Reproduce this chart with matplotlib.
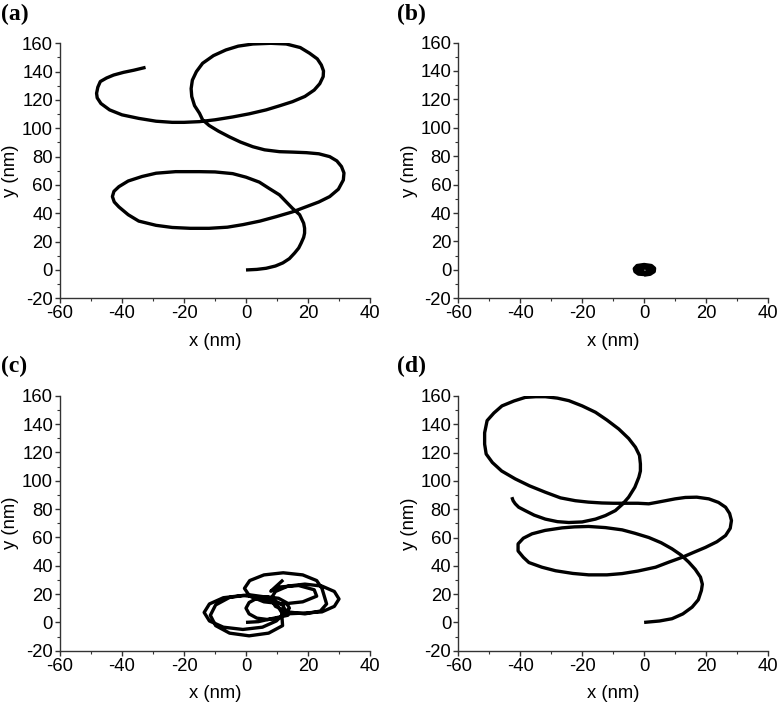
import matplotlib.pyplot as plt
from matplotlib.ticker import MultipleLocator

plt.rcParams['axes.unicode_minus'] = False

# trajectories, (x, y) in nm
a_pts = [(0, 0), (3.5, 0.4), (6.5, 1.2), (9.5, 2.8), (11.9, 5), (14, 8), (15.7, 12), (17, 15.5), (17.8, 19),
         (18.6, 23), (18.9, 26), (18.9, 29.5), (18.6, 33), (17.3, 39), (15, 43.5), (13, 48), (10.8, 53),
         (7.5, 57.5), (4.3, 62), (0, 65.5), (-4.3, 68), (-10, 69.2), (-15, 69.4), (-22.7, 69.4), (-29, 68.3),
         (-33.5, 66), (-38, 62.8), (-41, 58.8), (-42.6, 55.5), (-43.1, 51.8), (-42.5, 48), (-41, 44.5),
         (-38, 39), (-34.6, 34.5), (-29, 31.5), (-23.8, 30), (-18, 29.4), (-11.9, 29.4), (-6, 30.2), (-1, 32),
         (4.5, 34.5), (9.7, 37.6), (15, 41), (19.5, 44.7), (23.5, 48), (27, 51.8), (29.8, 57), (31.4, 63.5),
         (31.6, 68.5), (30.8, 73), (29.3, 77), (27, 80), (23.5, 82), (19.5, 82.8), (15, 83.2), (10.8, 83.5),
         (6, 84.8), (2.2, 87), (-1.8, 90.3), (-5.4, 94), (-8.9, 98), (-11.9, 102), (-14, 106), (-15, 110.6),
         (-16.6, 116), (-17.5, 122.4), (-17.7, 128), (-17.3, 134), (-16, 140), (-14, 145.9), (-10.5, 151.3),
         (-6.5, 155.3), (-2.5, 158), (2.2, 159.5), (8, 160), (13, 159.5), (17.5, 157), (20.5, 153), (23, 149),
         (24.3, 144.7), (25, 140.5), (24.9, 136.5), (23.8, 131.5), (22, 127), (19, 122.5), (15, 118.8), (11, 116),
         (6.5, 113), (1, 110.2), (-4.3, 108), (-10, 106), (-15, 104.7), (-20, 104.2), (-23.8, 104.2), (-29, 105),
         (-34.6, 107), (-40, 109.5), (-44, 113), (-46.8, 117.5), (-48, 121.5), (-48.2, 124.7), (-47.8, 129),
         (-47, 133), (-45, 135.5), (-42.7, 137.6), (-39.5, 139.5), (-36.2, 141), (-32.4, 143)]

b_pts = [(0, -3.3), (1.9, -2.7), (3.1, -1), (3.2, 1), (2.3, 2.7), (0, 3.4), (-2.2, 2.7), (-3, 0.8), (-2.8, -1),
         (-1.8, -2.6), (0, -2.9), (1.6, -2.2), (2.4, -0.6), (2.3, 0.9), (1.4, 2.2), (0, 2.6), (-1.4, 2.1),
         (-2.3, 0.6), (-2.2, -0.9), (-1.2, -2), (0, -2.2), (1, -1.6), (1.5, -0.3), (1.2, 1), (0.4, 1.7),
         (-0.6, 1.7), (-1.3, 0.8), (-1.2, -0.4), (-0.5, -1.2), (0, -1.3)]

c_pts = [(0, 0), (4, 0.5), (8, 2.5),
         (13.5, 5), (11.8, 12.3), (7.3, 17.6), (1, 19.5), (-5.3, 17.6), (-9.8, 12.3), (-11.5, 5), (-9.8, -2.3),
         (-5.3, -7.6), (1, -9.5), (7.3, -7.6), (11.8, -2.3),
         (11.5, 7), (9.8, 13), (5.3, 17.4), (-1, 19), (-7.3, 17.4), (-11.8, 13), (-13.5, 7), (-11.8, 1),
         (-7.3, -3.4), (-1, -5), (5.3, -3.4), (9.8, 1),
         (14, 10), (13, 14), (10.5, 17), (7, 18), (3.5, 17), (1, 14), (0, 10), (1, 6), (3.5, 3), (7, 2),
         (10.5, 3), (13, 6), (18, 6.5),
         (24.5, 7.4), (28.5, 11.3), (30, 16.5), (28.5, 21.8), (24.5, 25.6), (19, 27), (13.5, 25.6), (9.5, 21.8),
         (8, 16.5), (9.5, 11.3), (13.5, 7.4), (19, 6), (24, 8), (26, 13),
         (24.5, 24), (22.8, 29.5), (18.3, 33.5), (12, 35), (5.8, 33.5), (1.2, 29.5), (-0.5, 24), (1.2, 18.5),
         (5.8, 14.5), (12, 13), (18.3, 14.5), (22.8, 18.5), (22, 23), (17, 26), (11, 25), (8, 22), (10, 26),
         (12, 30)]

d_pts = [(0, 0), (5, 1), (9, 2.6), (12.5, 6), (15.5, 10.8), (17.5, 16), (18.5, 22.6), (18.8, 27), (18.2, 32),
         (16.5, 37.5), (14.4, 42.6), (12, 47.5), (9, 52), (5.5, 56.3), (1.5, 60), (-3, 63), (-7.1, 65.4),
         (-12.5, 67), (-17.9, 67.8), (-22.5, 67.5), (-26.5, 66.8), (-32, 65), (-36.2, 62.6), (-39, 59.5),
         (-40.7, 55.5), (-40.7, 50.5), (-39, 46), (-37.2, 42.3), (-33, 39), (-28.6, 36.5), (-23, 34.6),
         (-17.9, 33.6), (-12, 33.6), (-7.1, 34.5), (-2, 36.3), (3.7, 39), (8, 42.6), (12.3, 46), (16, 49.5),
         (19.8, 53), (23.5, 57), (26.3, 61.4), (27.8, 66.5), (28.2, 72), (27.6, 77), (26.3, 81.4), (24, 84.8),
         (20.9, 87.3), (17, 88.5), (13.3, 88.3), (10, 87.3), (6.9, 86), (4, 84.8), (1.5, 83.8), (-2, 84.2),
         (-6, 84.2), (-10, 84.2), (-13.6, 84.4), (-18, 85), (-22.2, 86), (-27, 88), (-31.9, 92), (-37, 96.5),
         (-41.6, 101.4), (-46, 107), (-49, 113), (-51, 119), (-51.5, 126), (-51.5, 134), (-50.7, 142.6),
         (-48.5, 148), (-45.9, 153), (-42, 156.5), (-38.4, 159), (-35, 159.5), (-31.9, 159.5), (-28, 158.5),
         (-24.3, 156.7), (-20, 153), (-15.7, 148.5), (-12, 143), (-8.2, 136.7), (-5, 130), (-2.8, 123.8),
         (-1.5, 118), (-1.2, 112), (-1.2, 107), (-1.7, 102.6), (-3, 95.5), (-5, 88.5), (-7, 83.5), (-9.3, 79),
         (-12.5, 75.5), (-15.7, 73), (-20, 71), (-24.3, 70.6), (-28, 71.2), (-31.9, 73), (-35.5, 75.8),
         (-38.4, 79), (-40.5, 81.4), (-41.6, 83.8), (-42.3, 86), (-42.7, 88.5)]

panel_labels = ["(a)", "(b)", "(c)", "(d)"]
panel_pts = [a_pts, b_pts, c_pts, d_pts]

sans = ["Liberation Sans Narrow", "Liberation Sans", "DejaVu Sans"]
serif = ["Liberation Serif", "DejaVu Serif"]

fig = plt.figure(figsize=(7.78, 7.08), dpi=100)

W, H = 778.0, 708.0
# axes boxes in pixels: left, top, right, bottom
boxes = [(60, 43.3, 370, 298.3), (458.3, 42.5, 768, 298.3),
         (60, 395.7, 370, 650.7), (458.3, 396, 768, 650.7)]
# panel labels: x, y centre in pixels
label_pos = [(1, 14), (397, 14), (1, 366), (397, 366)]

for lab, pts, (l, t, r, b), (lx, ly) in zip(panel_labels, panel_pts, boxes, label_pos):
    xs = [p[0] for p in pts]
    ys = [p[1] for p in pts]
    ax = fig.add_axes([l / W, 1 - b / H, (r - l) / W, (b - t) / H])
    lw = 2.4
    if lab == "(b)":
        lw = 3.2
    ax.plot(xs, ys, color="black", lw=lw, solid_joinstyle="round", solid_capstyle="butt")

    ax.set_xlim(-60, 40)
    ax.set_ylim(-20, 160)
    ax.xaxis.set_major_locator(MultipleLocator(20))
    ax.xaxis.set_minor_locator(MultipleLocator(10))
    ax.yaxis.set_major_locator(MultipleLocator(20))
    ax.yaxis.set_minor_locator(MultipleLocator(10))
    for side in ["top", "right"]:
        ax.spines[side].set_visible(False)
    for side in ["left", "bottom"]:
        ax.spines[side].set_linewidth(1.0)
        ax.spines[side].set_color("#333333")
    ax.tick_params(which="major", direction="out", length=3.5, width=1.0, color="#333333",
                   labelsize=13.3, pad=1.5)
    ax.tick_params(which="minor", direction="out", length=2, width=0.8, color="#333333")
    for tl in ax.get_xticklabels() + ax.get_yticklabels():
        tl.set_family(sans)

    ax.set_xlabel("x (nm)", family=sans, fontsize=13.3, labelpad=7.5)
    ax.set_ylabel("y (nm)", family=sans, fontsize=13.3, labelpad=2)

    fig.text(lx / W, 1 - ly / H, lab, family=serif, fontweight="bold", fontsize=17,
             ha="left", va="center")

fig.savefig("out.png", dpi=100)
plt.close(fig)
